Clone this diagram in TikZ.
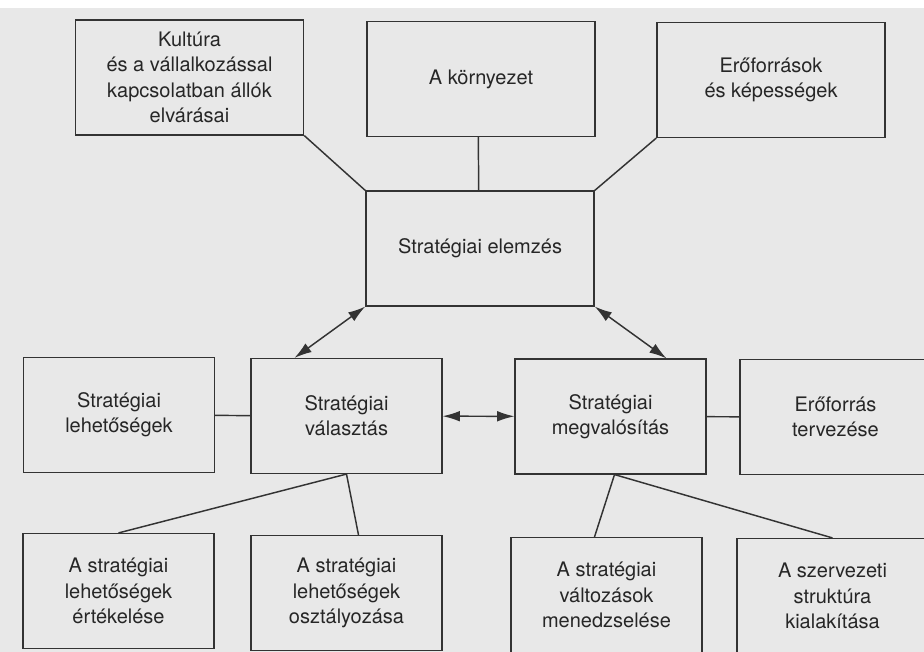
\documentclass[tikz,border=0pt]{standalone}
\usepackage{fontspec}
\setsansfont{TeX Gyre Heros}
\usetikzlibrary{arrows.meta}
\tikzset{
  box/.style={draw=black!80, line width=1.1pt, inner sep=0pt, align=center,
    text=black!85, font=\sffamily\fontsize{15}{19}\selectfont},
  bigbox/.style={box, minimum width=171pt, minimum height=86pt},
  smallbox/.style={box, minimum width=143pt, minimum height=86pt},
  link/.style={draw=black!80, line width=1.1pt},
  dual/.style={link, {Latex[length=13pt,width=8pt]}-{Latex[length=13pt,width=8pt]}}
}
\begin{document}
\begin{tikzpicture}[x=0.75pt,y=-0.75pt]
    % Page and scanned paper tone
    \useasboundingbox (0,0) rectangle (924,652);
    \fill[black!9] (0,8) rectangle (924,652);

    % Top row
    \node[bigbox] (kultura) at (189.5,77.5) {Kultúra\\és a vállalkozással\\kapcsolatban állók\\elvárásai};
    \node[bigbox] (kornyezet) at (481,79) {A környezet};
    \node[bigbox] (eroforrasok) at (771,80) {Erőforrások\\és képességek};
    \node[bigbox] (elemzes) at (480,248.5) {Stratégiai elemzés};

    % Middle row
    \node[smallbox] (lehetosegek) at (119,415) {Stratégiai\\lehetőségek};
    \node[smallbox] (valasztas) at (346.5,416) {Stratégiai\\választás};
    \node[smallbox] (megvalositas) at (610.5,416.5) {Stratégiai\\megvalósítás};
    \node[smallbox] (tervezese) at (835.5,417) {Erőforrás\\tervezése};

    % Bottom row
    \node[smallbox] (ertekelese) at (118.5,591) {A stratégiai\\lehetőségek\\értékelése};
    \node[smallbox] (osztalyozasa) at (346.5,593) {A stratégiai\\lehetőségek\\osztályozása};
    \node[smallbox] (menedzselese) at (606.5,595) {A stratégiai\\változások\\menedzselése};
    \node[smallbox] (struktura) at (832.5,596) {A szervezeti\\struktúra\\kialakítása};

    % Plain connectors
    \draw[link] (kultura.south east) -- (elemzes.north west);
    \draw[link] ([xshift=-2pt]kornyezet.south) -- ([xshift=-1pt]elemzes.north);
    \draw[link] (eroforrasok.south west) -- (elemzes.north east);
    \draw[link] (lehetosegek) -- (valasztas);
    \draw[link] (megvalositas) -- (tervezese);
    \draw[link] (valasztas.south) -- (ertekelese.north);
    \draw[link] (valasztas.south) -- ([xshift=9pt]osztalyozasa.north);
    \draw[link] ([xshift=3pt]megvalositas.south) -- ([xshift=-9pt]menedzselese.north);
    \draw[link] ([xshift=3pt]megvalositas.south) -- (struktura.north);

    % Two-way arrows
    \draw[dual] (elemzes.south west) -- ([xshift=33pt]valasztas.north west);
    \draw[dual] (elemzes.south east) -- ([xshift=42pt]megvalositas.north);
    \draw[dual] (valasztas) -- (megvalositas);
\end{tikzpicture}
\end{document}
